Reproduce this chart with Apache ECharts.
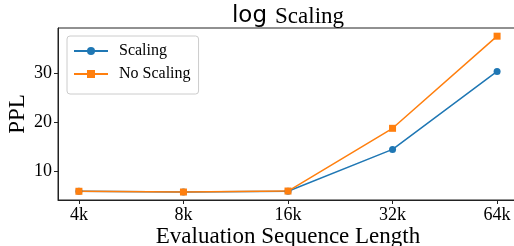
<!DOCTYPE html>
<html><head><meta charset="utf-8">
<script src="https://cdn.jsdelivr.net/npm/echarts@6/dist/echarts.min.js"></script>
<style>html,body{margin:0;padding:0;background:#fff}#c{width:514px;height:246px}</style>
</head><body><div id="c"></div>
<script>
var categories = ['4k', '8k', '16k', '32k', '64k'];
var scaling = [5.95, 5.8, 5.95, 14.5, 30.4];
var noScaling = [5.95, 5.8, 6.0, 18.8, 37.6];
var yTicks = [10, 20, 30];

var serif = 'Liberation Serif';
function pts(arr){ return arr.map(function(v,i){ return [i, v]; }); }
var chart = echarts.init(document.getElementById('c'), null, {renderer:'canvas'});
chart.setOption({
  animation: false,
  backgroundColor: '#fff',
  title: {
    text: '{a|log} {b|Scaling}',
    left: 283, textAlign: 'center', top: 0,
    textStyle: {
      fontWeight: 'normal',
      rich: {
        a: {fontFamily: 'DejaVu Sans', fontSize: 23, fontWeight: 'normal', color: '#000'},
        b: {fontFamily: serif, fontSize: 23, fontWeight: 'normal', color: '#000', padding: [0,0,0,3]}
      }
    }
  },
  grid: {left: 58, right: -4, top: 28, bottom: 46, outerBoundsMode: 'none',
         show: true, borderColor: '#222', borderWidth: 1},
  legend: {
    left: 67, top: 36, orient: 'vertical', itemGap: 7,
    padding: [7, 8, 12, 6],
    borderColor: '#ccc', borderWidth: 1, borderRadius: 3,
    itemWidth: 34, itemHeight: 10,
    textStyle: {fontFamily: serif, fontSize: 16, color: '#000', padding: [0,0,0,6]},
    data: ['Scaling', 'No Scaling']
  },
  xAxis: {
    type: 'value', min: -0.2, max: 4.2,
    name: 'Evaluation Sequence Length', nameLocation: 'middle', nameGap: 25, nameMoveOverlap: false,
    nameTextStyle: {fontFamily: serif, fontSize: 23, color: '#000'},
    axisLine: {show: true, onZero: false, lineStyle: {color: '#222', width: 1}},
    axisTick: {show: true, length: 4, lineStyle: {color: '#222'}, customValues: [0,1,2,3,4]},
    axisLabel: {fontFamily: serif, fontSize: 18, color: '#000', margin: 6,
      customValues: [0,1,2,3,4],
      formatter: function(v){ return categories[Math.round(v)]; }},
    splitLine: {show: false}
  },
  yAxis: {
    type: 'value', min: 4.17, max: 39.27,
    name: 'PPL', nameLocation: 'middle', nameGap: 29, nameMoveOverlap: false,
    nameTextStyle: {fontFamily: serif, fontSize: 23, color: '#000'},
    axisLine: {show: true, onZero: false, lineStyle: {color: '#222', width: 1}},
    axisTick: {show: true, length: 4, lineStyle: {color: '#222'}, customValues: yTicks},
    axisLabel: {fontFamily: serif, fontSize: 18, color: '#000', margin: 6, customValues: yTicks},
    splitLine: {show: false}
  },
  series: [
    {name: 'Scaling', type: 'line', data: pts(scaling), symbol: 'circle', symbolSize: 7,
     color: '#1f77b4', lineStyle: {width: 1.5}, itemStyle: {color: '#1f77b4'}},
    {name: 'No Scaling', type: 'line', data: pts(noScaling), symbol: 'rect', symbolSize: 7,
     color: '#ff7f0e', lineStyle: {width: 1.5}, itemStyle: {color: '#ff7f0e'}}
  ]
});
</script></body></html>
